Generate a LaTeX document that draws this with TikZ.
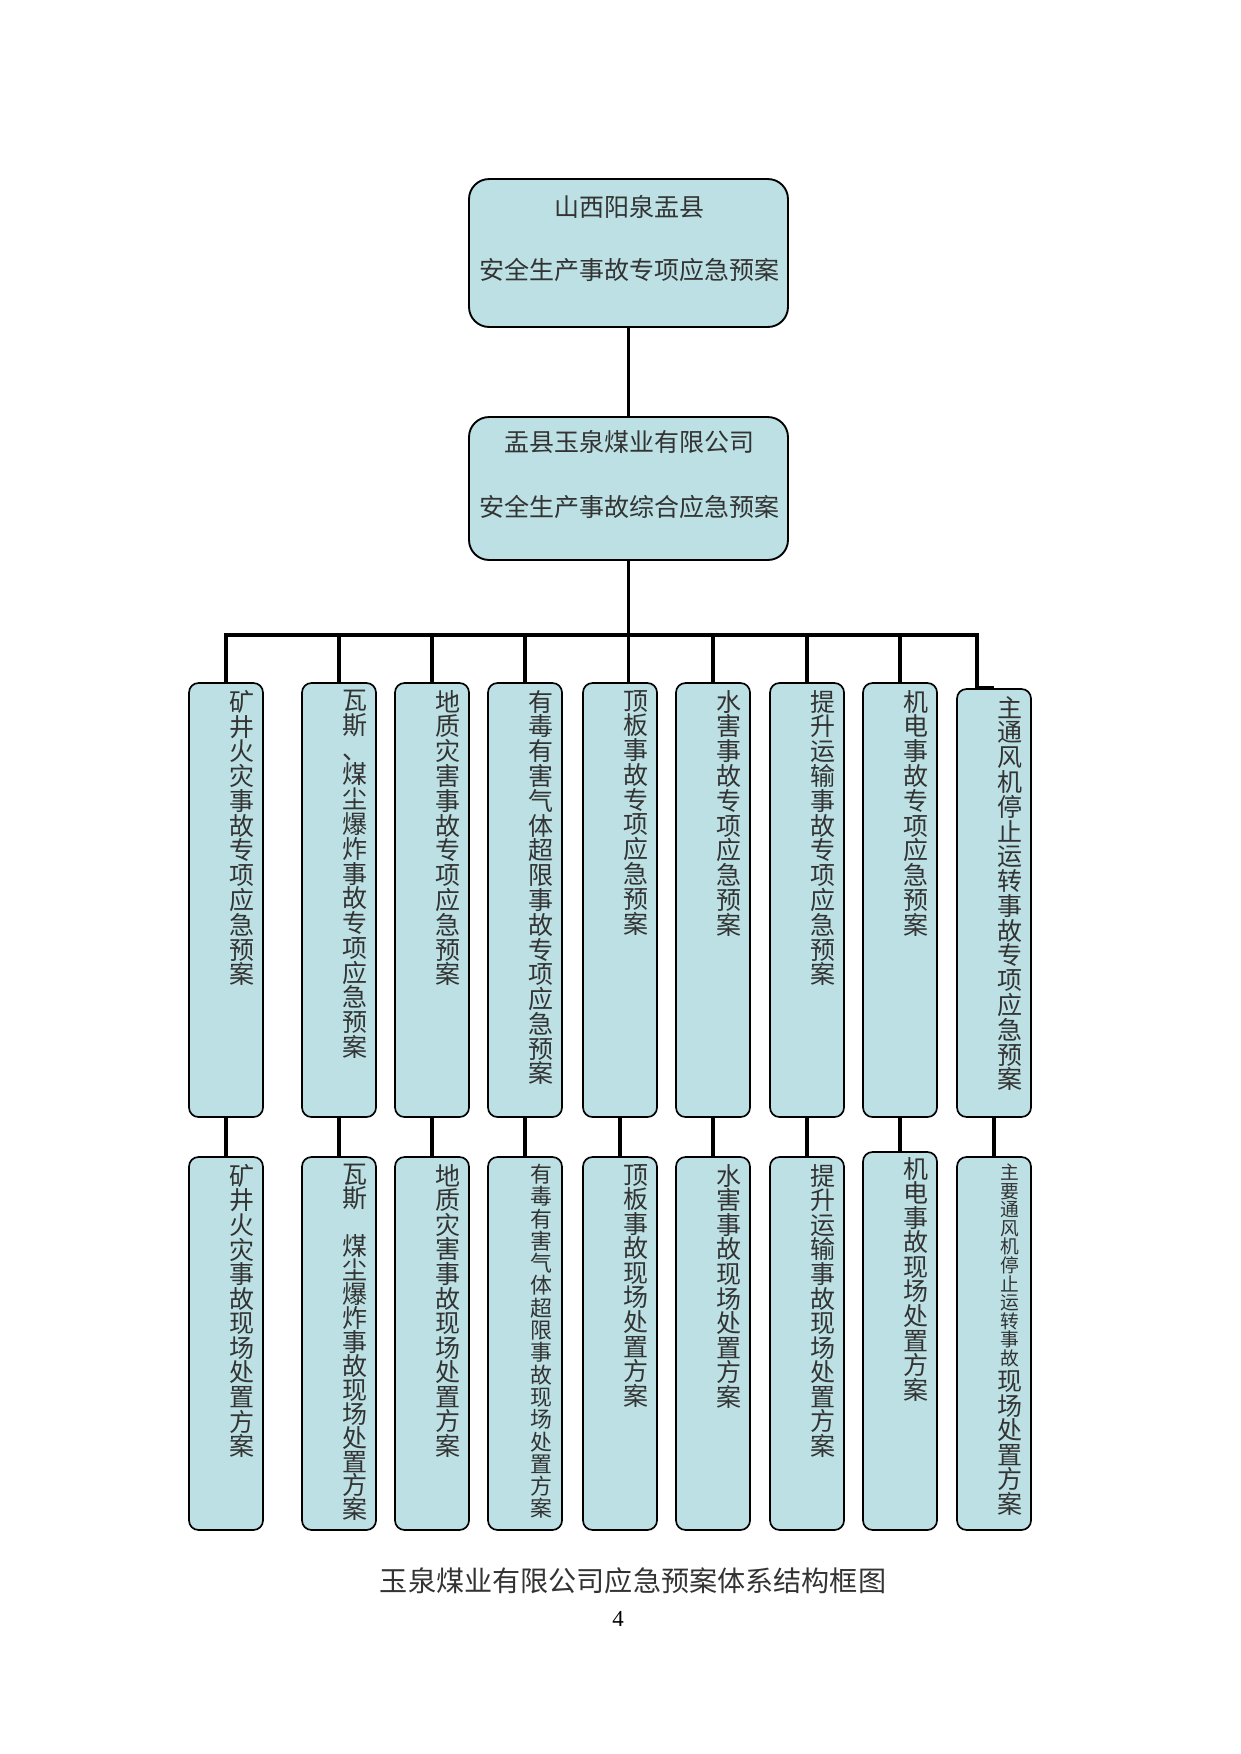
\documentclass[tikz,border=0pt]{standalone}
\usepackage{fontspec}
\newfontfamily\cjk{Noto Sans CJK SC}
\newfontfamily\numfont{Liberation Serif}
\definecolor{boxfill}{HTML}{BCE0E3}
\definecolor{txt}{HTML}{333333}
\makeatletter
\def\vt@end{\vt@end}
\def\vt@loop#1{\ifx\vt@end#1\else\hbox to 1em{\hss#1\hss}\expandafter\vt@loop\fi}
\newcommand\vstack[2]{\vbox{\baselineskip=#1\lineskiplimit=-\maxdimen\lineskip=0pt\vt@loop#2\vt@end}}
\makeatother
\begin{document}
\begin{tikzpicture}[x=0.48pt,y=-0.48pt,
  topbox/.style={draw, line width=0.9pt, fill=boxfill, rounded corners=9.6pt,
    minimum width=153.1pt, inner sep=0pt},
  colbox/.style={draw, line width=0.8pt, fill=boxfill, rounded corners=4.5pt,
    minimum width=35.5pt, inner sep=0pt},
  toprow/.style={colbox, minimum height=208.3pt},
  botrow/.style={colbox, minimum height=179pt},
  link/.style={line width=1.9pt, line join=miter},
  hlab/.style={inner sep=0pt, text=txt, font=\cjk\fontsize{12}{12}\selectfont},
  vlab/.style={anchor=north, inner sep=0pt, text=txt, xshift=7.7pt, yshift=-3.6pt,
    font=\cjk\fontsize{12}{12}\selectfont},
  vlabsmall/.style={vlab, font=\cjk\fontsize{10.5}{10.5}\selectfont},
  vlabtiny/.style={vlab, font=\cjk\fontsize{9}{9}\selectfont}
]
\useasboundingbox[fill=white] (0,0) rectangle (1241,1754);

% top boxes
\node[topbox, minimum height=71pt] (A) at (628.5,253) {};
\node[hlab] (A1) at (629,207) {山西阳泉盂县};
\node[hlab] (A2) at (629,270) {安全生产事故专项应急预案};
\node[topbox, minimum height=68.6pt] (B) at (628.5,488.5) {};
\node[hlab] (B1) at (629,442) {盂县玉泉煤业有限公司};
\node[hlab] (B2) at (629,507) {安全生产事故综合应急预案};

% top row
\node[toprow] (t1) at (226,900) {};
\node[toprow] (t2) at (339,900) {};
\node[toprow] (t3) at (432,900) {};
\node[toprow] (t4) at (525,900) {};
\node[toprow] (t5) at (620,900) {};
\node[toprow] (t6) at (713,900) {};
\node[toprow] (t7) at (807,900) {};
\node[toprow] (t8) at (900,900) {};
\node[colbox, minimum height=205.4pt] (t9) at (994,903) {};

\node[vlab] (l1) at (t1.north) {\vstack{11.9pt}{矿井火灾事故专项应急预案}};
\node[vlab] (l2) at (t2.north) {\vstack{11.9pt}{瓦斯、煤尘爆炸事故专项应急预案}};
\node[vlab] (l3) at (t3.north) {\vstack{11.9pt}{地质灾害事故专项应急预案}};
\node[vlab] (l4) at (t4.north) {\vstack{11.9pt}{有毒有害气体超限事故专项应急预案}};
\node[vlab] (l5) at (t5.north) {\vstack{11.9pt}{顶板事故专项应急预案}};
\node[vlab] (l6) at (t6.north) {\vstack{11.9pt}{水害事故专项应急预案}};
\node[vlab] (l7) at (t7.north) {\vstack{11.9pt}{提升运输事故专项应急预案}};
\node[vlab] (l8) at (t8.north) {\vstack{11.9pt}{机电事故专项应急预案}};
\node[vlab] (l9) at (t9.north) {\vstack{11.9pt}{主通风机停止运转事故专项应急预案}};

% bottom row
\node[botrow] (b1) at (226,1343.5) {};
\node[botrow] (b2) at (339,1343.5) {};
\node[botrow] (b3) at (432,1343.5) {};
\node[botrow] (b4) at (525,1343.5) {};
\node[botrow] (b5) at (620,1343.5) {};
\node[botrow] (b6) at (713,1343.5) {};
\node[botrow] (b7) at (807,1343.5) {};
\node[colbox, minimum height=181.4pt] (b8) at (900,1341) {};
\node[botrow] (b9) at (994,1343.5) {};

\node[vlab] (m1) at (b1.north) {\vstack{11.8pt}{矿井火灾事故现场处置方案}};
\node[vlab] (m2) at (b2.north) {\vstack{11.5pt}{瓦斯　煤尘爆炸事故现场处置方案}};
\node[vlab] (m3) at (b3.north) {\vstack{11.8pt}{地质灾害事故现场处置方案}};
\node[vlabsmall] (m4) at (b4.north) {\vstack{10.7pt}{有毒有害气体超限事故现场处置方案}};
\node[vlab] (m5) at (b5.north) {\vstack{11.8pt}{顶板事故现场处置方案}};
\node[vlab] (m6) at (b6.north) {\vstack{11.8pt}{水害事故现场处置方案}};
\node[vlab] (m7) at (b7.north) {\vstack{11.8pt}{提升运输事故现场处置方案}};
\node[vlab, yshift=1pt] (m8) at (b8.north) {\vstack{11.8pt}{机电事故现场处置方案}};
\node[vlabtiny] (m9a) at (b9.north) {\vstack{8.9pt}{主要通风机停止运转事故}};
\node[vlab, at=(m9a.south), yshift=3.6pt, xshift=-7.7pt, yshift=-1.5pt] (m9b) {\vstack{11.8pt}{现场处置方案}};

% connectors
\coordinate (bar9) at (977,635);
\draw[link] (A.south) -- (B.north);
\draw[link] (B.south) -- (B.south |- t5.north);
\draw[link] (t1.north) |- (bar9) |- (t9.north);
\foreach \i in {2,3,4,6,7,8}{
  \draw[link] (t\i.north |- bar9) -- (t\i.north);
}
\foreach \i in {1,...,9}{
  \draw[link] (t\i.south) -- (b\i.north);
}

% caption
\node[inner sep=0pt, text=txt, font=\cjk\fontsize{13.5}{13.5}\selectfont] (cap) at (633,1581) {玉泉煤业有限公司应急预案体系结构框图};
\node[inner sep=0pt, font=\numfont\fontsize{11}{11}\selectfont] (pg) at (618,1619) {4};
\end{tikzpicture}
\end{document}
